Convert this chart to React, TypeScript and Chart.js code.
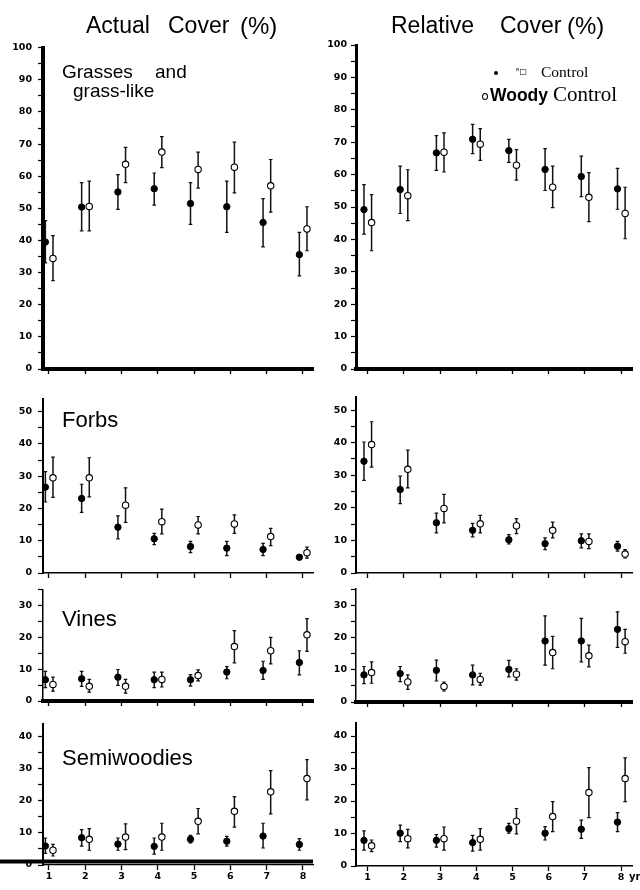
import React, { useEffect, useRef } from "react";
import { Chart, registerables } from "chart.js";

Chart.register(...registerables);

// ---------- data ----------
const years = [1, 2, 3, 4, 5, 6, 7, 8];
const yearLabels = ["1", "2", "3", "4", "5", "6", "7", "8"];

// Grasses and grass-like — actual cover (%)
const grassActualControl = [39.5, 50.4, 55.1, 56.1, 51.5, 50.5, 45.6, 35.6];
const grassActualControlRange = [[33, 46.2], [43, 58], [49.7, 60.5], [51, 61], [45, 58], [42.5, 58.5], [38, 53], [29, 42.5]];
const grassActualWoody = [34.4, 50.6, 63.7, 67.5, 62.1, 62.8, 57.0, 43.6];
const grassActualWoodyRange = [[27.5, 41.5], [43, 58.5], [58, 69], [62.7, 72.3], [56.3, 67.5], [54.8, 70.6], [48.8, 65.2], [36.8, 50.5]];

// Grasses and grass-like — relative cover (%)
const grassRelControl = [49.2, 55.4, 66.7, 70.9, 67.4, 61.6, 59.4, 55.6];
const grassRelControlRange = [[41.6, 56.9], [48, 62.6], [61.3, 72], [66.5, 75.5], [63.8, 70.9], [55.1, 68], [53.2, 65.7], [49.3, 61.9]];
const grassRelWoody = [45.2, 53.5, 66.9, 69.4, 62.9, 56.1, 53.0, 48.0];
const grassRelWoodyRange = [[36.5, 53.8], [45.8, 61.5], [60.8, 72.9], [64.4, 74.2], [58.3, 67.7], [49.8, 62.6], [45.5, 60.6], [40.2, 56.1]];

// Forbs — actual
const forbActualControl = [26.6, 23.1, 14.2, 10.6, 8.2, 7.7, 7.3, 4.9];
const forbActualControlRange = [[22, 31.4], [18.8, 27.5], [10.6, 17.7], [8.8, 12.3], [6.3, 9.8], [5.4, 9.8], [5.4, 9.2], [4.1, 5.7]];
const forbActualWoody = [29.5, 29.5, 21.0, 15.9, 14.9, 15.2, 11.3, 6.3];
const forbActualWoodyRange = [[23.4, 35.9], [23.6, 35.7], [15.7, 26.4], [12.1, 19.8], [12.1, 17.5], [12.3, 18], [8.5, 13.8], [4.6, 8]];

// Forbs — relative
const forbRelControl = [34.3, 25.6, 15.4, 13.1, 10.2, 9.0, 9.9, 8.2];
const forbRelControlRange = [[28.4, 40.2], [21.3, 29.7], [12.3, 18.4], [11.1, 15.2], [8.9, 11.8], [7.2, 10.8], [7.7, 12], [6.7, 9.7]];
const forbRelWoody = [39.4, 31.8, 19.8, 15.1, 14.5, 13.1, 9.7, 5.8];
const forbRelWoodyRange = [[32.5, 46.4], [26.1, 37.7], [15.4, 24.1], [12.3, 17.7], [12.1, 16.7], [10.8, 15.6], [7.5, 12], [4.6, 7.2]];

// Vines — actual
const vineActualControl = [6.7, 7.0, 7.5, 6.7, 6.7, 9.1, 9.6, 12.1];
const vineActualControlRange = [[4.2, 9.3], [4.6, 9.3], [4.9, 9.9], [4.2, 9.1], [4.7, 8.3], [7, 10.8], [6.8, 12.5], [8.2, 15.8]];
const vineActualWoody = [5.2, 4.6, 4.6, 6.8, 8.0, 17.1, 15.8, 20.8];
const vineActualWoodyRange = [[3.1, 7.5], [2.8, 6.8], [2.5, 6.8], [4.4, 9.1], [6.3, 9.8], [12, 22.1], [11.7, 20], [15.6, 25.9]];

// Vines — relative
const vineRelControl = [8.4, 8.8, 9.8, 8.4, 10.1, 18.9, 18.9, 22.5];
const vineRelControlRange = [[5.7, 11], [6.3, 11], [6.5, 13], [5.3, 11.4], [7.8, 12.9], [11.4, 26.7], [12.4, 25.9], [16.9, 27.9]];
const vineRelWoody = [9.1, 6.2, 4.8, 7.0, 8.6, 15.3, 14.3, 18.7];
const vineRelWoodyRange = [[5.8, 12.4], [3.9, 8.4], [3.4, 6.2], [5.2, 8.9], [6.8, 10.3], [10.3, 20.3], [10.9, 17.6], [15.1, 22.5]];

// Semiwoodies — actual
const semiActualControl = [5.9, 8.5, 6.5, 5.8, 8.0, 7.4, 9.0, 6.4];
const semiActualControlRange = [[3.6, 8.4], [5.9, 11], [4.6, 8.4], [3.4, 8.4], [6.9, 9.2], [5.9, 8.9], [5.3, 13], [4.6, 8.2]];
const semiActualWoody = [4.6, 8.0, 8.7, 8.7, 13.6, 16.7, 22.8, 26.9];
const semiActualWoodyRange = [[2.8, 6.4], [4.6, 11.3], [4.8, 12.8], [4.6, 13], [9.7, 17.6], [11.8, 21.3], [15.9, 29.4], [20.3, 32.8]];

// Semiwoodies — relative
const semiRelControl = [7.9, 10.1, 7.9, 7.2, 11.5, 10.1, 11.3, 13.5];
const semiRelControlRange = [[4.9, 10.8], [7.5, 12.6], [5.8, 9.7], [4.6, 9.4], [10.1, 13.1], [8, 12.1], [8.5, 14.1], [10.6, 16.4]];
const semiRelWoody = [6.2, 8.4, 8.4, 8.2, 13.8, 15.2, 22.6, 26.9];
const semiRelWoodyRange = [[4.4, 8], [5.6, 11.3], [4.9, 12], [4.9, 11.5], [9.9, 17.7], [10.6, 19.8], [14.9, 30.3], [19.8, 33.3]];

// ---------- layout ----------
const SANS = "'Liberation Sans', Arial, Helvetica, sans-serif";
const SERIF = "'Liberation Serif', 'Times New Roman', serif";
const TICK_FONT = { family: "'DejaVu Sans', sans-serif", size: 9.5, weight: "bold" as const };

interface PanelDef {
  id: string;
  col: 0 | 1;
  yMax: number;
  top: number;
  bottom: number;
  control: number[];
  controlRange: number[][];
  woody: number[];
  woodyRange: number[][];
  xBorder: number;
  yBorder: number;
  xLabels: boolean;
  extraLine?: number;
}

const panels: PanelDef[] = [
  { id: "ga", col: 0, yMax: 100, top: 46, bottom: 369, control: grassActualControl, controlRange: grassActualControlRange, woody: grassActualWoody, woodyRange: grassActualWoodyRange, xBorder: 4, yBorder: 4, xLabels: false },
  { id: "gr", col: 1, yMax: 100, top: 45, bottom: 369, control: grassRelControl, controlRange: grassRelControlRange, woody: grassRelWoody, woodyRange: grassRelWoodyRange, xBorder: 4, yBorder: 3, xLabels: false },
  { id: "fa", col: 0, yMax: 54, top: 397, bottom: 573, control: forbActualControl, controlRange: forbActualControlRange, woody: forbActualWoody, woodyRange: forbActualWoodyRange, xBorder: 1.5, yBorder: 2, xLabels: false },
  { id: "fr", col: 1, yMax: 54, top: 397, bottom: 573, control: forbRelControl, controlRange: forbRelControlRange, woody: forbRelWoody, woodyRange: forbRelWoodyRange, xBorder: 1.5, yBorder: 2, xLabels: false },
  { id: "va", col: 0, yMax: 35, top: 588, bottom: 701, control: vineActualControl, controlRange: vineActualControlRange, woody: vineActualWoody, woodyRange: vineActualWoodyRange, xBorder: 4, yBorder: 1.5, xLabels: false },
  { id: "vr", col: 1, yMax: 35, top: 589, bottom: 702, control: vineRelControl, controlRange: vineRelControlRange, woody: vineRelWoody, woodyRange: vineRelWoodyRange, xBorder: 4, yBorder: 1.5, xLabels: false },
  { id: "sa", col: 0, yMax: 44, top: 722, bottom: 865, control: semiActualControl, controlRange: semiActualControlRange, woody: semiActualWoody, woodyRange: semiActualWoodyRange, xBorder: 1.2, yBorder: 2, xLabels: true, extraLine: 1.1 },
  { id: "sr", col: 1, yMax: 44, top: 723, bottom: 866, control: semiRelControl, controlRange: semiRelControlRange, woody: semiRelWoody, woodyRange: semiRelWoodyRange, xBorder: 1.5, yBorder: 2, xLabels: true },
];

const PAD_TOP = 10;
const X_AXIS_H = 24;

const errorBarPlugin = {
  id: "errorBars",
  beforeDatasetsDraw(chart: any) {
    const ctx = chart.ctx;
    const ys = chart.scales.y;
    chart.data.datasets.forEach((ds: any, di: number) => {
      const meta = chart.getDatasetMeta(di);
      const ranges: number[][] = ds.errorRanges || [];
      meta.data.forEach((pt: any, i: number) => {
        const r = ranges[i];
        if (!r) return;
        const x = pt.x;
        const yl = ys.getPixelForValue(r[0]);
        const yh = ys.getPixelForValue(r[1]);
        ctx.save();
        ctx.strokeStyle = "#111";
        ctx.lineWidth = 1.5;
        ctx.beginPath();
        ctx.moveTo(x, yl);
        ctx.lineTo(x, yh);
        ctx.stroke();
        ctx.lineWidth = 1.2;
        ctx.beginPath();
        ctx.moveTo(x - 1.8, yl);
        ctx.lineTo(x + 1.8, yl);
        ctx.moveTo(x - 1.8, yh);
        ctx.lineTo(x + 1.8, yh);
        ctx.stroke();
        ctx.restore();
      });
    });
  },
};

function Panel({ def }: { def: PanelDef }) {
  const ref = useRef<HTMLCanvasElement | null>(null);
  const left = def.col === 0 ? 0 : 320;
  const height = PAD_TOP + (def.bottom - def.top) + X_AXIS_H;

  useEffect(() => {
    const canvas = ref.current;
    if (!canvas) return;
    const xMin = def.col === 0 ? 0.835 : 0.68;
    const xMax = def.col === 0 ? 8.276 : 8.3;
    const yAxisW = def.col === 0 ? 43 : 36;
    const yPad = def.col === 0 ? 6 : 4;
    const offC = -0.1;
    const offW = 0.11;

    const extraLinePlugin = {
      id: "extraLine",
      afterDraw(chart: any) {
        if (def.extraLine === undefined) return;
        const ctx = chart.ctx;
        const y = chart.scales.y.getPixelForValue(def.extraLine);
        ctx.save();
        ctx.strokeStyle = "#000";
        ctx.lineWidth = 4;
        ctx.beginPath();
        ctx.moveTo(0, y);
        ctx.lineTo(chart.chartArea.right, y);
        ctx.stroke();
        ctx.restore();
      },
    };

    const chart = new Chart(canvas, {
      type: "scatter",
      data: {
        datasets: [
          {
            label: "Control",
            data: years.map((yr, i) => ({ x: yr + offC, y: def.control[i] })),
            pointRadius: 3.2,
            pointBackgroundColor: "#000",
            pointBorderColor: "#000",
            pointBorderWidth: 1,
            errorRanges: def.controlRange,
          } as any,
          {
            label: "Woody Control",
            data: years.map((yr, i) => ({ x: yr + offW, y: def.woody[i] })),
            pointRadius: 3.2,
            pointBackgroundColor: "#fff",
            pointBorderColor: "#000",
            pointBorderWidth: 1.1,
            errorRanges: def.woodyRange,
          } as any,
        ],
      },
      options: {
        responsive: false,
        maintainAspectRatio: false,
        animation: false,
        events: [],
        layout: { padding: { top: PAD_TOP, right: def.col === 0 ? 7 : 8, left: 0, bottom: 0 } },
        plugins: { legend: { display: false }, tooltip: { enabled: false } },
        scales: {
          x: {
            type: "linear",
            min: xMin,
            max: xMax,
            afterBuildTicks: (s: any) => {
              s.ticks = years.map((v) => ({ value: v }));
            },
            afterFit: (s: any) => {
              s.height = X_AXIS_H;
            },
            grid: { display: true, drawOnChartArea: false, drawTicks: true, tickLength: 5, tickWidth: 1.3, tickColor: "#000", color: "#000" },
            border: { display: true, color: "#000", width: def.xBorder },
            ticks: {
              autoSkip: false,
              maxRotation: 0,
              padding: 1,
              color: "#000",
              font: TICK_FONT,
              callback: (v: any) => (def.xLabels ? yearLabels[years.indexOf(Number(v))] ?? "" : ""),
            },
          },
          y: {
            type: "linear",
            min: 0,
            max: def.yMax,
            afterBuildTicks: (s: any) => {
              const t: { value: number }[] = [];
              for (let v = 0; v <= def.yMax + 1e-9; v += 5) t.push({ value: v });
              s.ticks = t;
            },
            afterFit: (s: any) => {
              s.width = yAxisW;
            },
            grid: { display: true, drawOnChartArea: false, drawTicks: true, tickLength: 5, tickWidth: 1.2, tickColor: "#000", color: "#000" },
            border: { display: true, color: "#000", width: def.yBorder },
            ticks: {
              autoSkip: false,
              padding: yPad,
              color: "#000",
              font: TICK_FONT,
              callback: (v: any) => (Math.round(Number(v)) % 10 === 0 ? String(v) : ""),
            },
          },
        },
      },
      plugins: [errorBarPlugin, extraLinePlugin],
    });
    return () => chart.destroy();
  }, [def]);

  return (
    <canvas
      ref={ref}
      width={320}
      height={height}
      style={{ position: "absolute", left, top: def.top - PAD_TOP, width: 320, height }}
    />
  );
}

function Txt(props: { x: number; y: number; size: number; family?: string; weight?: string | number; children: React.ReactNode; spacing?: number }) {
  const { x, y, size, family = SANS, weight = "normal", children, spacing } = props;
  return (
    <div
      style={{
        position: "absolute",
        left: x,
        top: y - 0.846 * size,
        fontSize: size,
        lineHeight: `${size}px`,
        fontFamily: family,
        fontWeight: weight as any,
        whiteSpace: "nowrap",
        color: "#000",
        letterSpacing: spacing,
      }}
    >
      {children}
    </div>
  );
}

export default function App() {
  return (
    <div style={{ position: "absolute", left: 0, top: 0, width: 640, height: 890, background: "#fff", overflow: "hidden" }}>
      {panels.map((p) => (
        <Panel key={p.id} def={p} />
      ))}

      {/* column titles */}
      <Txt x={86} y={33} size={23}>Actual</Txt>
      <Txt x={168} y={33} size={23}>Cover</Txt>
      <Txt x={240} y={34} size={24}>(%)</Txt>
      <Txt x={391} y={33} size={23}>Relative</Txt>
      <Txt x={500} y={33} size={23}>Cover</Txt>
      <Txt x={567} y={34} size={24}>(%)</Txt>

      {/* panel labels */}
      <Txt x={62} y={78} size={19}>Grasses</Txt>
      <Txt x={155} y={78} size={19}>and</Txt>
      <Txt x={73} y={97} size={19}>grass-like</Txt>
      <Txt x={62} y={428} size={22}>Forbs</Txt>
      <Txt x={62} y={627} size={22}>Vines</Txt>
      <Txt x={62} y={766} size={22}>Semiwoodies</Txt>

      {/* legend */}
      <div style={{ position: "absolute", left: 494, top: 71, width: 4, height: 4, borderRadius: 2, background: "#000" }} />
      <Txt x={516} y={75} size={8} family="'DejaVu Sans', sans-serif">ᴿ□</Txt>
      <Txt x={541} y={77} size={15.5} family={SERIF}>Control</Txt>
      <div style={{ position: "absolute", left: 482, top: 93, width: 4, height: 5, borderRadius: "50%", border: "1px solid #000", background: "#fff" }} />
      <Txt x={490} y={102} size={17.5} weight="bold">Woody</Txt>
      <Txt x={553} y={102} size={21} family={SERIF}>Control</Txt>

      {/* x unit */}
      <Txt x={629} y={880} size={10} family="'DejaVu Sans', sans-serif" weight="bold">yr</Txt>
    </div>
  );
}
